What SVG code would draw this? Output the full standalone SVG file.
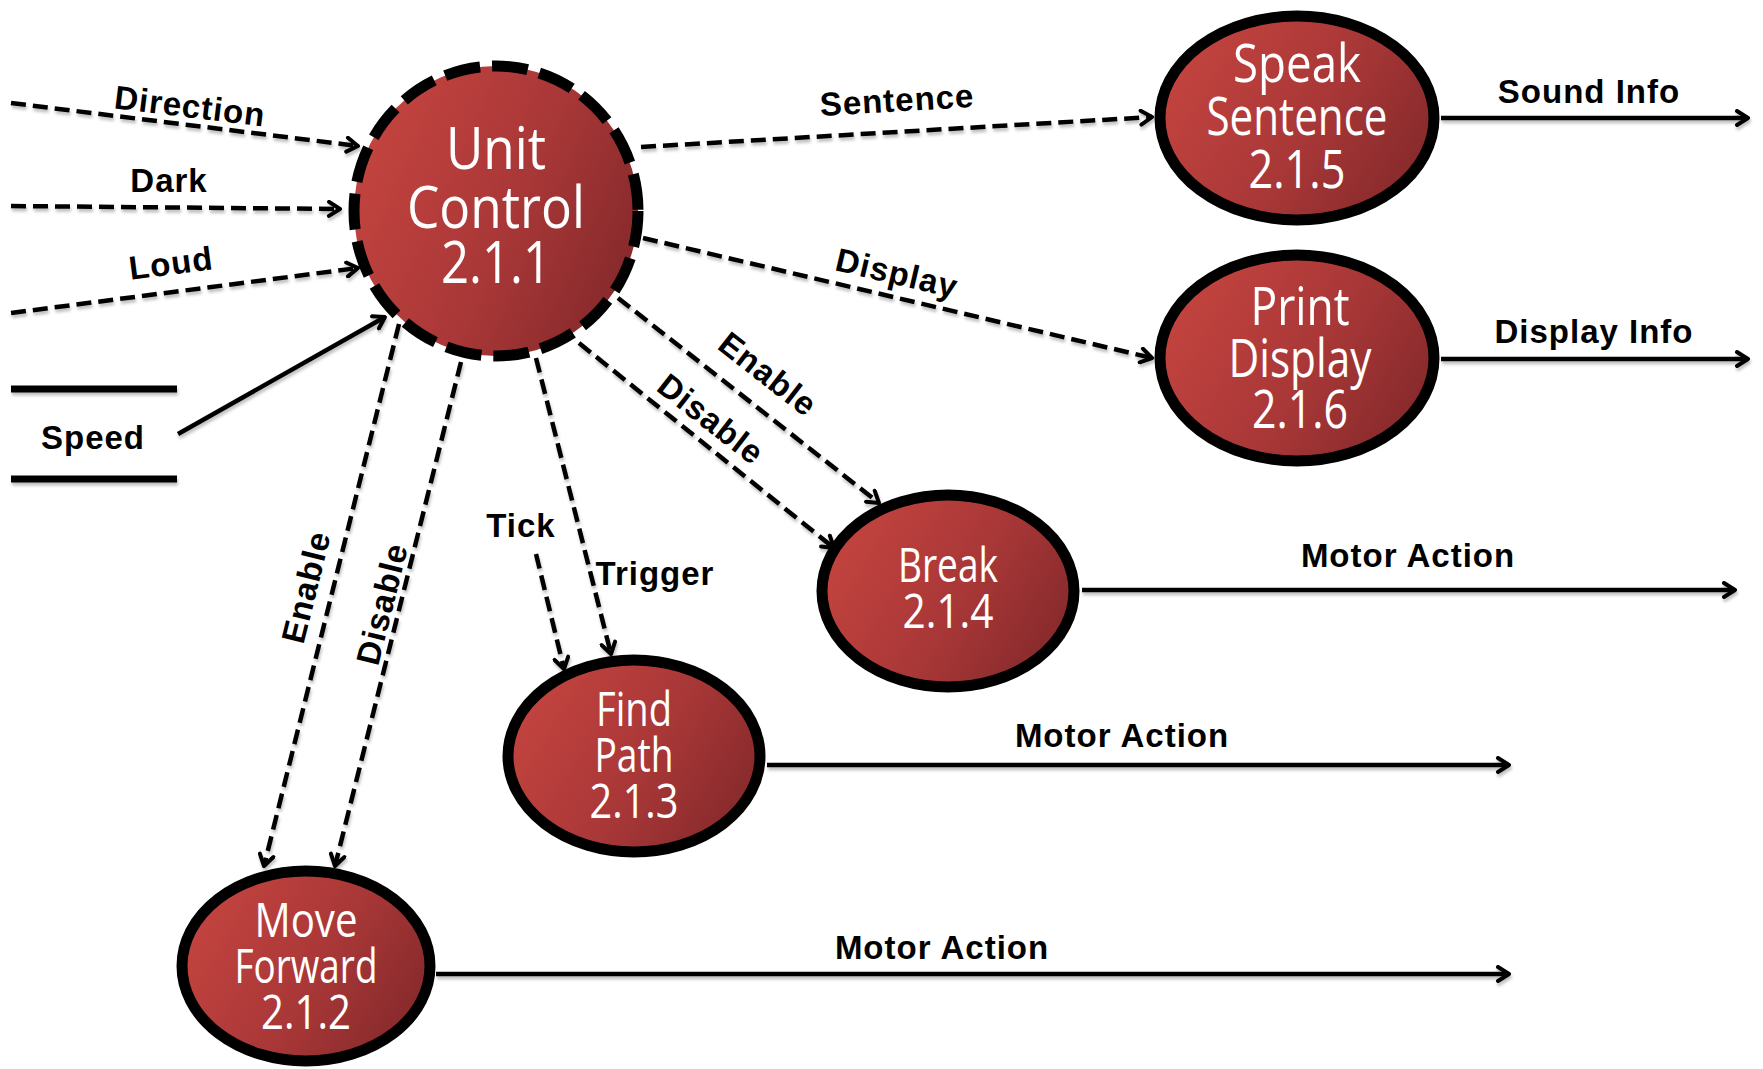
<svg xmlns="http://www.w3.org/2000/svg" width="1763" height="1069" viewBox="0 0 1763 1069">
<defs>
<linearGradient id="red" x1="0" y1="0.3" x2="1" y2="0.75">
<stop offset="0" stop-color="#c4443f"/>
<stop offset="0.55" stop-color="#a83737"/>
<stop offset="1" stop-color="#83282a"/>
</linearGradient>
<marker id="arr" viewBox="0 0 16 18" refX="14" refY="9" markerWidth="16" markerHeight="18" markerUnits="userSpaceOnUse" orient="auto">
<path d="M3,2 L14,9 L3,16" fill="none" stroke="#000" stroke-width="4" stroke-linecap="round" stroke-linejoin="round"/>
</marker>
<filter id="sh" x="-5%" y="-5%" width="110%" height="120%">
<feDropShadow dx="1" dy="3" stdDeviation="1.5" flood-color="#000" flood-opacity="0.25"/>
</filter>
</defs>
<style>
.node{fill:url(#red);stroke:#000;stroke-width:11}
.dn{stroke-dasharray:36 12}
.nt{fill:#fff;font-family:"Open Sans","Noto Sans",sans-serif;text-anchor:middle}
.dash{fill:none;stroke:#000;stroke-width:4.5;stroke-dasharray:15 7;marker-end:url(#arr)}
.solid{fill:none;stroke:#000;stroke-width:4.5;marker-end:url(#arr)}
.lbl{font-family:"Liberation Sans",Arial,sans-serif;font-weight:bold;font-size:33px;letter-spacing:1px;text-anchor:middle;dominant-baseline:central;fill:#000}
</style>
<rect width="1763" height="1069" fill="#fff"/>
<g id="connectors" filter="url(#sh)">
<path class="dash" d="M11,103 L358,146"/>
<path class="dash" d="M11,206 L340,209"/>
<path class="dash" d="M11,313 L358,268"/>
<path class="solid" d="M178,434 L385,317"/>
<path class="dash" d="M641,147 L1152,117"/>
<path class="dash" d="M643,238 L1152,358"/>
<path class="dash" d="M618,298 L879,503"/>
<path class="dash" d="M579,343 L834,548"/>
<path class="dash" d="M536,358 L611,654"/>
<path class="dash" d="M536,554 L564,669"/>
<path class="dash" d="M399,324 L264,866"/>
<path class="dash" d="M461,362 L335,866"/>
<path class="solid" d="M1441,118 L1748,118"/>
<path class="solid" d="M1441,359 L1748,359"/>
<path class="solid" d="M1082,590 L1735,590"/>
<path class="solid" d="M767,765 L1509,765"/>
<path class="solid" d="M436,974 L1509,974"/>
<line x1="11" y1="389" x2="177" y2="389" stroke="#000" stroke-width="7"/>
<line x1="11" y1="479" x2="177" y2="479" stroke="#000" stroke-width="7"/>
</g>
<g id="labels">
<text class="lbl" transform="translate(190,106) rotate(7)">Direction</text>
<text class="lbl" x="169" y="180">Dark</text>
<text class="lbl" transform="translate(171,263) rotate(-7.4)">Loud</text>
<text class="lbl" x="93" y="437">Speed</text>
<text class="lbl" transform="translate(897,100) rotate(-3.4)">Sentence</text>
<text class="lbl" transform="translate(897,273) rotate(13.2)">Display</text>
<text class="lbl" transform="translate(768,374) rotate(38)">Enable</text>
<text class="lbl" transform="translate(711,419) rotate(38)">Disable</text>
<text class="lbl" x="521" y="525">Tick</text>
<text class="lbl" x="655" y="573">Trigger</text>
<text class="lbl" transform="translate(306,587) rotate(-76)">Enable</text>
<text class="lbl" transform="translate(382,604) rotate(-76)">Disable</text>
<text class="lbl" x="1589" y="91">Sound Info</text>
<text class="lbl" x="1594" y="331">Display Info</text>
<text class="lbl" x="1408" y="555">Motor Action</text>
<text class="lbl" x="1122" y="735">Motor Action</text>
<text class="lbl" x="942" y="947">Motor Action</text>
</g>
<g id="unit-control">
<ellipse class="node dn" cx="496" cy="211" rx="142" ry="145"/>
<text class="nt" font-size="58"><tspan x="496" y="169" textLength="100" lengthAdjust="spacingAndGlyphs">Unit</tspan><tspan x="496" y="228" textLength="178" lengthAdjust="spacingAndGlyphs">Control</tspan><tspan x="496" y="283" textLength="110" lengthAdjust="spacingAndGlyphs">2.1.1</tspan></text>
</g>
<g id="speak-sentence">
<ellipse class="node" cx="1297" cy="118" rx="137" ry="102"/>
<text class="nt" font-size="53"><tspan x="1297" y="82" textLength="128" lengthAdjust="spacingAndGlyphs">Speak</tspan><tspan x="1297" y="135" textLength="181" lengthAdjust="spacingAndGlyphs">Sentence</tspan><tspan x="1297" y="188" textLength="97" lengthAdjust="spacingAndGlyphs">2.1.5</tspan></text>
</g>
<g id="print-display">
<ellipse class="node" cx="1297" cy="358" rx="137" ry="103"/>
<text class="nt" font-size="53"><tspan x="1300" y="325" textLength="99" lengthAdjust="spacingAndGlyphs">Print</tspan><tspan x="1300" y="377" textLength="143" lengthAdjust="spacingAndGlyphs">Display</tspan><tspan x="1300" y="428" textLength="96" lengthAdjust="spacingAndGlyphs">2.1.6</tspan></text>
</g>
<g id="break">
<ellipse class="node" cx="948" cy="591" rx="126" ry="96"/>
<text class="nt" font-size="47"><tspan x="948" y="582" textLength="100" lengthAdjust="spacingAndGlyphs">Break</tspan><tspan x="948" y="628" textLength="91" lengthAdjust="spacingAndGlyphs">2.1.4</tspan></text>
</g>
<g id="find-path">
<ellipse class="node" cx="634" cy="756" rx="126" ry="96"/>
<text class="nt" font-size="47"><tspan x="634" y="726" textLength="76" lengthAdjust="spacingAndGlyphs">Find</tspan><tspan x="634" y="772" textLength="79" lengthAdjust="spacingAndGlyphs">Path</tspan><tspan x="634" y="818" textLength="89" lengthAdjust="spacingAndGlyphs">2.1.3</tspan></text>
</g>
<g id="move-forward">
<ellipse class="node" cx="306" cy="966" rx="124" ry="95"/>
<text class="nt" font-size="47"><tspan x="306" y="937" textLength="103" lengthAdjust="spacingAndGlyphs">Move</tspan><tspan x="306" y="983" textLength="143" lengthAdjust="spacingAndGlyphs">Forward</tspan><tspan x="306" y="1029" textLength="90" lengthAdjust="spacingAndGlyphs">2.1.2</tspan></text>
</g>
</svg>
